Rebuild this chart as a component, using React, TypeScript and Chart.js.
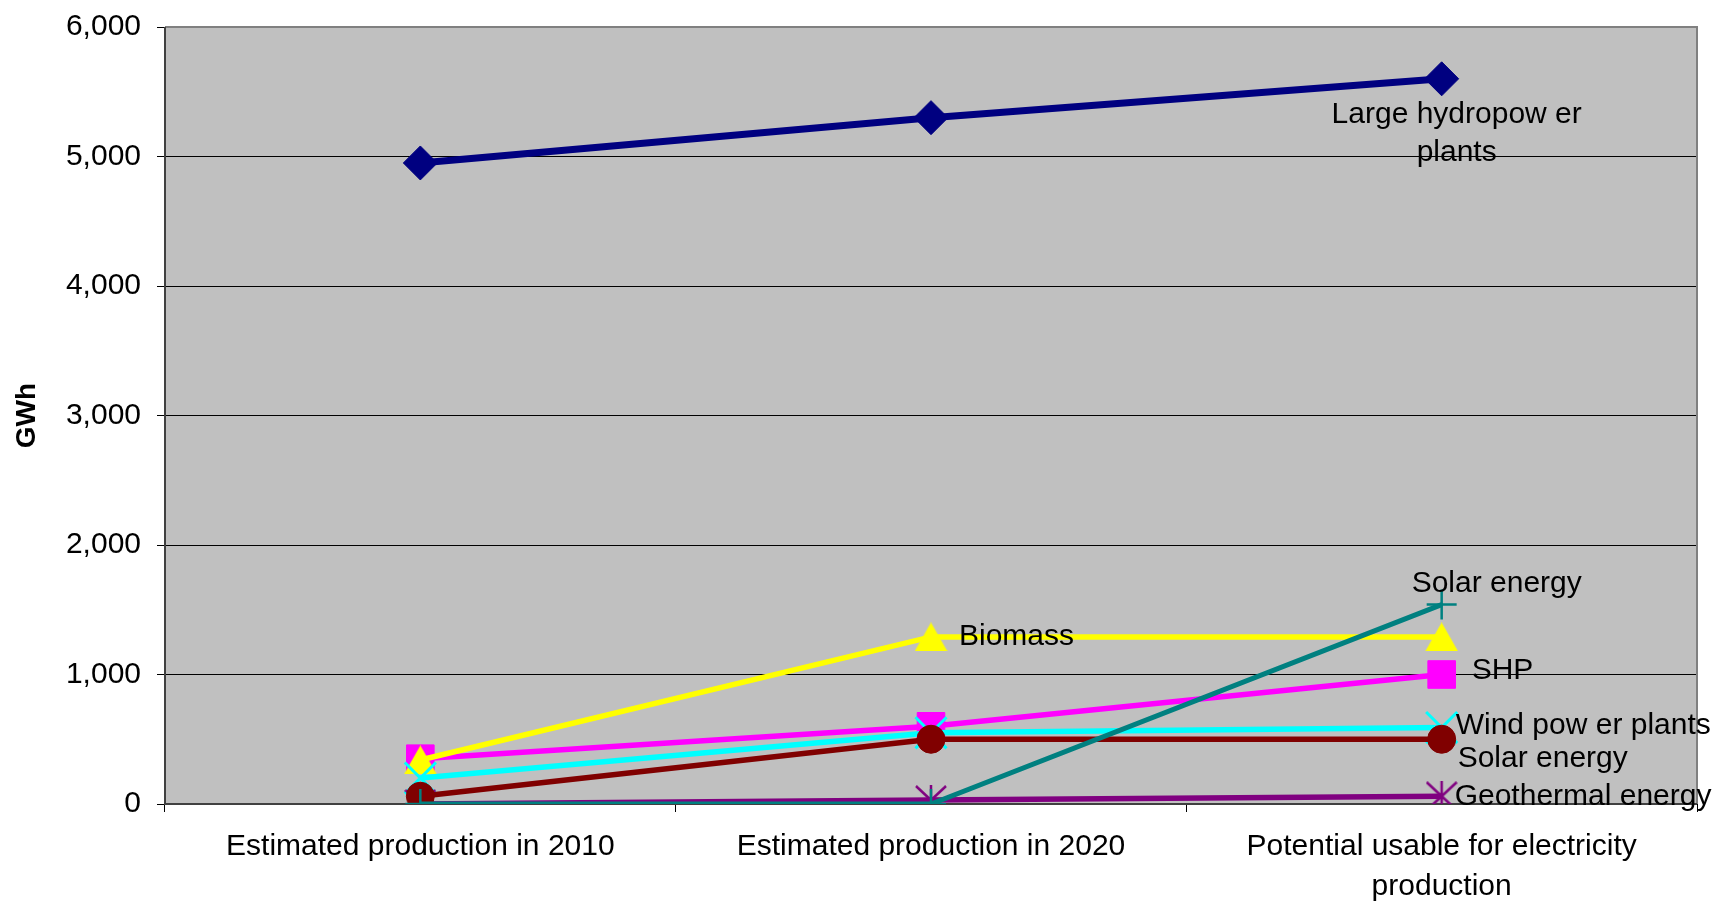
import React, { useEffect, useRef } from "react";
import { Chart, registerables } from "chart.js";

Chart.register(...registerables);

// Categories (x axis)
const categories: (string | string[])[] = [
  "Estimated production in 2010",
  "Estimated production in 2020",
  ["Potential usable for electricity", "production"],
];

// Series values, GWh
const largeHydro = [4950, 5300, 5600];
const shp = [350, 600, 1000];
const biomass = [340, 1290, 1290];
const windPower = [200, 550, 590];
const geothermal = [0, 30, 60];
const solarEnergyA = [60, 500, 500];
const solarEnergyB = [0, 0, 1540];

// Y axis
const yTicks = [0, 1000, 2000, 3000, 4000, 5000, 6000];
const yTitle = "GWh";

// Series names as written beside the last points
const seriesNames = [
  ["Large hydropow er", "plants"],
  ["SHP"],
  ["Biomass"],
  ["Wind pow er plants"],
  ["Geothermal energy"],
  ["Solar energy"],
  ["Solar energy"],
];

const FONT = '"Liberation Sans", Arial, Helvetica, sans-serif';

function makeStar(color: string): HTMLCanvasElement {
  const c = document.createElement("canvas");
  c.width = 32;
  c.height = 30;
  const g = c.getContext("2d")!;
  g.strokeStyle = color;
  g.lineWidth = 2.5;
  g.beginPath();
  g.moveTo(1, 1);
  g.lineTo(31, 29);
  g.moveTo(31, 1);
  g.lineTo(1, 29);
  g.moveTo(16, 0);
  g.lineTo(16, 30);
  g.stroke();
  return c;
}

function makeTriangle(color: string): HTMLCanvasElement {
  const c = document.createElement("canvas");
  c.width = 33;
  c.height = 29;
  const g = c.getContext("2d")!;
  g.fillStyle = color;
  g.beginPath();
  g.moveTo(16.5, 0);
  g.lineTo(33, 29);
  g.lineTo(0, 29);
  g.closePath();
  g.fill();
  return c;
}

// Text labels anchored to a data point: [dataset, point, dx, dy, align]
const labelAnchors: [number, number, number, number, CanvasTextAlign][] = [
  [0, 2, 15, 36, "center"],
  [1, 2, 30, -4, "left"],
  [2, 1, 28, 0, "left"],
  [3, 2, 14, -2, "left"],
  [4, 2, 13, 1, "left"],
  [5, 2, 16, 19, "left"],
  [6, 2, -30, -21, "left"],
];

const plotFrame = {
  id: "plotFrame",
  beforeDraw(chart: any) {
    const { ctx, chartArea: a } = chart;
    ctx.save();
    ctx.fillStyle = "#c0c0c0";
    ctx.fillRect(a.left, a.top, a.right - a.left, a.bottom - a.top);
    ctx.restore();
  },
  beforeDatasetsDraw(chart: any) {
    const { ctx, chartArea: a } = chart;
    ctx.save();
    ctx.strokeStyle = "#808080";
    ctx.lineWidth = 2;
    ctx.beginPath();
    ctx.moveTo(a.left, a.top);
    ctx.lineTo(a.right, a.top);
    ctx.lineTo(a.right, a.bottom);
    ctx.stroke();
    ctx.strokeStyle = "#404040";
    ctx.beginPath();
    ctx.moveTo(a.left, a.top);
    ctx.lineTo(a.left, a.bottom);
    ctx.lineTo(a.right, a.bottom);
    ctx.stroke();
    ctx.restore();
  },
};

const seriesLabels = {
  id: "seriesLabels",
  afterDatasetsDraw(chart: any) {
    const { ctx } = chart;
    ctx.save();
    ctx.font = `30px ${FONT}`;
    ctx.fillStyle = "#000";
    ctx.textBaseline = "middle";
    for (const [ds, idx, dx, dy, align] of labelAnchors) {
      const pt = chart.getDatasetMeta(ds).data[idx];
      if (!pt) continue;
      ctx.textAlign = align;
      seriesNames[ds].forEach((line, i) => {
        ctx.fillText(line, pt.x + dx, pt.y + dy + i * 38);
      });
    }
    ctx.restore();
  },
};

export default function App() {
  const ref = useRef<HTMLCanvasElement | null>(null);

  useEffect(() => {
    if (!ref.current) return;
    const star = makeStar("#800080");
    const tri = makeTriangle("#ffff00");

    const series = [
      { data: largeHydro, color: "#000080", style: "rectRot", r: 17, lw: 7, pbw: 1 },
      { data: shp, color: "#ff00ff", style: "rect", r: 19.5, lw: 5.5, pbw: 1 },
      { data: biomass, color: "#ffff00", style: tri, r: 16, lw: 5.5, pbw: 1 },
      { data: windPower, color: "#00ffff", style: "crossRot", r: 22, lw: 5.5, pbw: 3 },
      { data: geothermal, color: "#800080", style: star, r: 16, lw: 5.5, pbw: 1 },
      { data: solarEnergyA, color: "#800000", style: "circle", r: 14, lw: 5.5, pbw: 1 },
      { data: solarEnergyB, color: "#008080", style: "cross", r: 15, lw: 5, pbw: 2.5 },
    ];

    const chart = new Chart(ref.current, {
      type: "line",
      data: {
        labels: categories,
        datasets: series.map((s, i) => ({
          label: seriesNames[i].join(" "),
          data: s.data,
          borderColor: s.color,
          backgroundColor: s.color,
          borderWidth: s.lw,
          pointStyle: s.style as any,
          pointRadius: s.r,
          pointBorderWidth: s.pbw,
          pointBorderColor: s.color,
          pointBackgroundColor: s.color,
          tension: 0,
          order: -i,
        })),
      },
      options: {
        animation: false,
        responsive: false,
        layout: { padding: { left: 0, top: 27, right: 27, bottom: 0 } },
        plugins: {
          legend: { display: false },
          tooltip: { enabled: false },
        },
        scales: {
          x: {
            offset: true,
            grid: {
              display: true,
              drawOnChartArea: false,
              drawTicks: true,
              tickLength: 8,
              color: "#000",
              offset: true,
            },
            border: { display: false },
            ticks: {
              color: "#000",
              padding: 15,
              maxRotation: 0,
              autoSkip: false,
              font: { family: FONT, size: 30, lineHeight: 1.3333 },
            },
            afterFit(scale: any) {
              scale.height = 97;
              scale.paddingLeft = 0;
              scale.paddingRight = 0;
            },
          },
          y: {
            min: 0,
            max: 6000,
            afterBuildTicks(scale: any) {
              scale.ticks = yTicks.map((v) => ({ value: v }));
            },
            grid: {
              color: "#000",
              lineWidth: 1,
              tickLength: 8,
              tickColor: "#000",
            },
            border: { display: false },
            ticks: {
              color: "#000",
              padding: 16,
              font: { family: FONT, size: 30 },
              callback: (v: any) => Number(v).toLocaleString("en-US"),
            },
            title: {
              display: true,
              text: yTitle,
              color: "#000",
              font: { family: FONT, size: 28, weight: "bold" },
              padding: { top: 10, bottom: 0 },
            },
            afterFit(scale: any) {
              scale.width = 165;
              scale.paddingTop = 0;
              scale.paddingBottom = 0;
            },
          },
        },
      },
      plugins: [plotFrame, seriesLabels],
    });

    return () => chart.destroy();
  }, []);

  return (
    <div style={{ position: "absolute", left: 0, top: 0, width: 1724, height: 901, background: "#fff" }}>
      <canvas ref={ref} width={1724} height={901} style={{ display: "block" }} />
    </div>
  );
}
